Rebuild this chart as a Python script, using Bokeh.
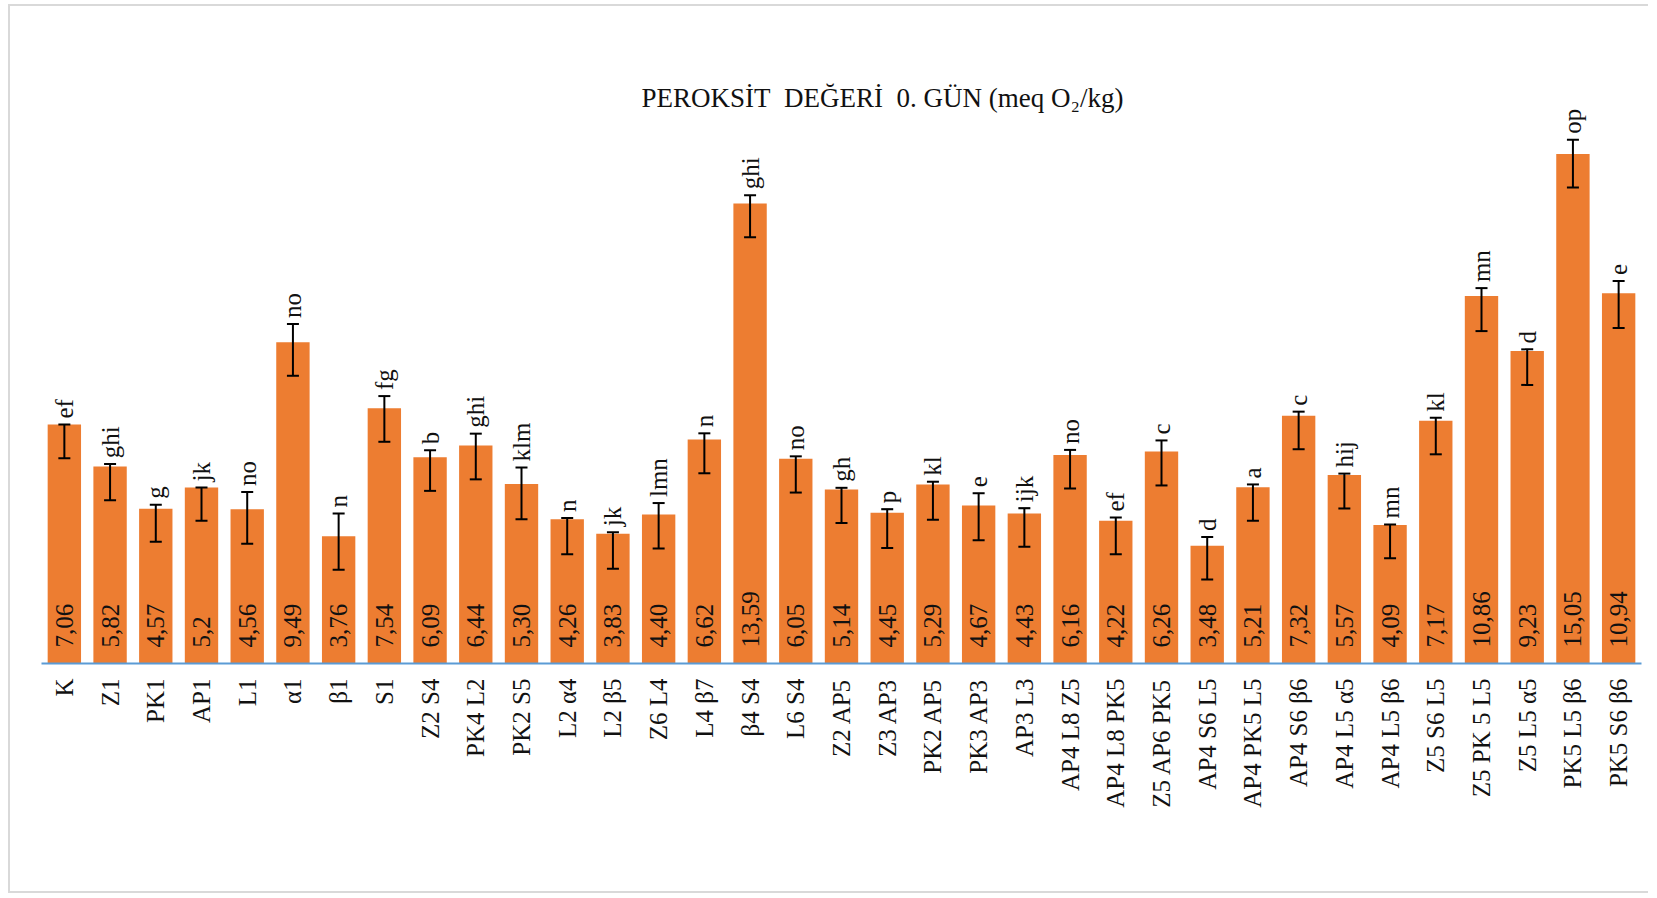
from math import pi
from bokeh.plotting import figure
from bokeh.models import ColumnDataSource, FactorRange, Range1d, Whisker, TeeHead, Label, LabelSet
from bokeh.core.properties import value
from bokeh.embed import file_html
from bokeh.resources import INLINE

categories = ["K", "Z1", "PK1", "AP1", "L1", "α1", "β1", "S1", "Z2 S4", "PK4 L2",
              "PK2 S5", "L2 α4", "L2 β5", "Z6 L4", "L4 β7", "β4 S4", "L6 S4", "Z2 AP5",
              "Z3 AP3", "PK2 AP5", "PK3 AP3", "AP3 L3", "AP4 L8 Z5", "AP4 L8 PK5",
              "Z5 AP6 PK5", "AP4 S6 L5", "AP4 PK5 L5", "AP4 S6 β6", "AP4 L5 α5",
              "AP4 L5 β6", "Z5 S6 L5", "Z5 PK 5 L5", "Z5 L5 α5", "PK5 L5 β6", "PK5 S6 β6"]

values = [7.06, 5.82, 4.57, 5.2, 4.56, 9.49, 3.76, 7.54, 6.09, 6.44,
          5.30, 4.26, 3.83, 4.40, 6.62, 13.59, 6.05, 5.14,
          4.45, 5.29, 4.67, 4.43, 6.16, 4.22,
          6.26, 3.48, 5.21, 7.32, 5.57,
          4.09, 7.17, 10.86, 9.23, 15.05, 10.94]

value_labels = ["7,06", "5,82", "4,57", "5,2", "4,56", "9,49", "3,76", "7,54", "6,09", "6,44",
                "5,30", "4,26", "3,83", "4,40", "6,62", "13,59", "6,05", "5,14",
                "4,45", "5,29", "4,67", "4,43", "6,16", "4,22",
                "6,26", "3,48", "5,21", "7,32", "5,57",
                "4,09", "7,17", "10,86", "9,23", "15,05", "10,94"]

letters = ["ef", "ghi", "g", "jk", "no", "no", "n", "fg", "b", "ghi",
           "klm", "n", "jk", "lmn", "n", "ghi", "no", "gh",
           "p", "kl", "e", "ijk", "no", "ef",
           "c", "d", "a", "c", "hij",
           "mn", "kl", "mn", "d", "op", "e"]

err_plus = [0.00, 0.07, 0.12, 0.00, 0.51, 0.54, 0.67, 0.36, 0.21, 0.35,
            0.49, 0.04, 0.05, 0.34, 0.18, 0.24, 0.07, 0.05,
            0.11, 0.08, 0.36, 0.16, 0.15, 0.09,
            0.33, 0.26, 0.08, 0.12, 0.04,
            0.02, 0.09, 0.23, 0.05, 0.42, 0.36]

err_minus = [1.00, 1.00, 0.97, 0.98, 1.02, 0.99, 0.99, 0.99, 0.99, 1.00,
             1.04, 1.03, 1.03, 1.00, 1.00, 1.00, 1.00, 0.99,
             1.04, 1.04, 1.03, 0.98, 0.99, 0.99,
             1.00, 1.00, 0.99, 0.99, 0.99,
             0.98, 0.99, 1.04, 1.00, 0.99, 1.03]

title_text = "PEROKSİT\u00a0\u00a0DEĞERİ\u00a0\u00a00.\u00a0GÜN\u00a0(meq\u00a0O₂/kg)"

upper = [v + e for v, e in zip(values, err_plus)]
lower = [v - e for v, e in zip(values, err_minus)]

src = ColumnDataSource(dict(cat=categories, val=values, vlab=value_labels,
                            let=letters, upper=upper, lower=lower,
                            zero=[0] * len(values)))

FONT = "Liberation Serif"
W, H = 1640, 889
ML, MT, MB = 31, 34, 232
FW = 1600
FH = H - MB - MT
PXU = 33.85

border = "2px solid #d9d9d9"
p = figure(width=W, height=H, x_range=FactorRange(*categories, range_padding=0),
           y_range=Range1d(0, FH / PXU), output_backend="svg", toolbar_location=None,
           min_border_left=ML, min_border_right=W - ML - FW, min_border_top=MT,
           min_border_bottom=MB, background_fill_color="white", border_fill_color="white",
           outline_line_color=None,
           styles={"margin-left": "8px", "margin-top": "4px", "border-left": border,
                   "border-top": border, "border-bottom": border})

p.vbar(x="cat", top="val", width=0.73, source=src, fill_color="#ED7D31", line_color=None)

p.add_layout(Whisker(source=src, base="cat", upper="upper", lower="lower", level="overlay",
                     line_color="black", line_width=2,
                     upper_head=TeeHead(size=12, line_color="black", line_width=2),
                     lower_head=TeeHead(size=12, line_color="black", line_width=2)))

p.add_layout(LabelSet(x="cat", y="zero", text="vlab", source=src, angle=pi / 2,
                      text_align="left", text_baseline="middle", y_offset=16,
                      text_font=value(FONT), text_font_size=value("25px"),
                      text_color=value("#111111")))

p.add_layout(LabelSet(x="cat", y="upper", text="let", source=src, angle=pi / 2,
                      text_align="left", text_baseline="middle", y_offset=6,
                      text_font=value(FONT), text_font_size=value("25px"),
                      text_color=value("#111111")))

p.add_layout(Label(x=841, y=566, x_units="screen", y_units="screen",
                   text=title_text, text_align="center", text_baseline="middle",
                   text_font=FONT, text_font_size="27px", text_color="#111111"))

p.yaxis.visible = False
p.xgrid.grid_line_color = None
p.ygrid.grid_line_color = None
ax = p.xaxis[0]
ax.axis_line_color = "#5B9BD5"
ax.axis_line_width = 2
ax.major_tick_line_color = None
ax.minor_tick_line_color = None
ax.major_tick_out = 0
ax.major_tick_in = 0
ax.major_label_orientation = pi / 2
ax.major_label_standoff = 15
ax.major_label_text_font = FONT
ax.major_label_text_font_size = "25px"
ax.major_label_text_color = "#111111"
ax.group_text_font_size = "0px"

open("out.html", "w").write(file_html(p, INLINE))
